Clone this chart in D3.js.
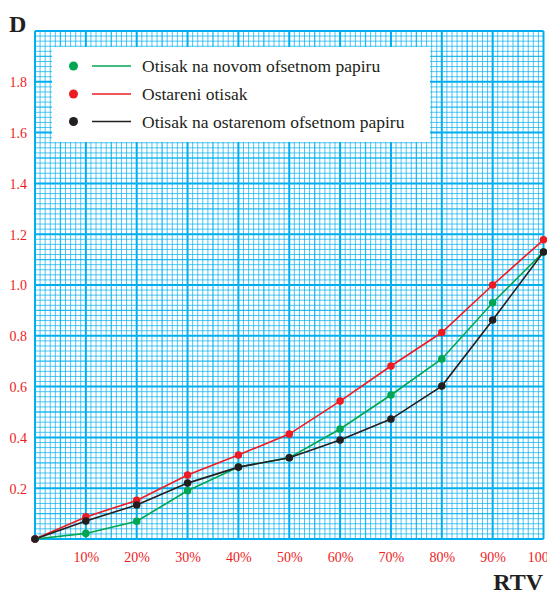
<!DOCTYPE html>
<html>
<head>
<meta charset="utf-8">
<script src="https://cdn.jsdelivr.net/npm/d3@7"></script>
<style>
  body { margin: 0; background: #fff; }
  svg { display: block; }
  svg text { font-family: "Liberation Serif", "Times New Roman", Times, "DejaVu Serif", "Noto Serif", serif; }
</style>
</head>
<body>
<script>
const width = 547;
const height = 592;
const serif = '"Liberation Serif", "Times New Roman", Times, "DejaVu Serif", "Noto Serif", serif';

// RTV (%) on x, optical density D on y
const rtv = [0, 10, 20, 30, 40, 50, 60, 70, 80, 90, 100];
const novi = [0, 0.022, 0.07, 0.19, 0.283, 0.32, 0.433, 0.567, 0.709, 0.93, 1.13];
const ostareni = [0, 0.087, 0.152, 0.252, 0.331, 0.413, 0.543, 0.681, 0.813, 1.0, 1.178];
const ostareniPapir = [0, 0.071, 0.134, 0.22, 0.283, 0.32, 0.39, 0.472, 0.602, 0.862, 1.13];

const seriesNames = ['Otisak na novom ofsetnom papiru', 'Ostareni otisak', 'Otisak na ostarenom ofsetnom papiru'];
const seriesColors = ['#00a651', '#ed1c24', '#231f20'];
const seriesValues = [novi, ostareni, ostareniPapir];

const xTicks = [10, 20, 30, 40, 50, 60, 70, 80, 90, 100];
const yTicks = [0.2, 0.4, 0.6, 0.8, 1.0, 1.2, 1.4, 1.6, 1.8];

const x = d3.scaleLinear().domain([0, 100]).range([35, 543.5]);
const y = d3.scaleLinear().domain([0, 2]).range([539, 31]);

const svg = d3.select('body').append('svg')
    .attr('width', width)
    .attr('height', height);

// graph paper
const grid = svg.append('g');
const gridBlue = '#00aeef';

d3.range(0, 101).forEach((i) => {
  let major = i % 10 === 0, mid = i % 5 === 0;
  grid.append('line')
    .attr('x1', x(i)).attr('x2', x(i))
    .attr('y1', y(2)).attr('y2', y(0))
    .attr('stroke', gridBlue)
    .attr('stroke-opacity', major ? 1 : (mid ? 0.85 : 0.7))
    .attr('stroke-width', major ? 2 : (mid ? 1.3 : 1));
});
d3.range(0, 101).forEach((i) => {
  let v = i * 0.02;
  let major = i % 10 === 0, mid = i % 5 === 0;
  grid.append('line')
    .attr('x1', x(0)).attr('x2', x(100))
    .attr('y1', y(v)).attr('y2', y(v))
    .attr('stroke', gridBlue)
    .attr('stroke-opacity', major ? 1 : (mid ? 0.85 : 0.7))
    .attr('stroke-width', major ? 2 : (mid ? 1.3 : 1));
});

// axes labels (red numbers)
const xAxis = svg.append('g')
    .attr('transform', `translate(0,${y(0) + 10})`)
    .call(d3.axisBottom(x).tickValues(xTicks).tickSize(0).tickFormat((d) => d + '%'));
const yAxis = svg.append('g')
    .attr('transform', `translate(${x(0) - 8},0)`)
    .call(d3.axisLeft(y).tickValues(yTicks).tickSize(0).tickFormat(d3.format('.1f')));

[xAxis, yAxis].forEach((ax) => {
  ax.attr('font-family', null);
  ax.select('.domain').remove();
  ax.selectAll('text')
    .attr('fill', '#ed1c24')
    .style('font-family', serif)
    .style('font-size', '14px');
});
yAxis.selectAll('text').attr('x', 0).attr('dy', '0.35em');

svg.append('text')
    .attr('x', 9).attr('y', 32)
    .style('font-family', serif)
    .style('font-weight', 'bold')
    .style('font-size', '24px')
    .attr('fill', '#231f20')
    .text('D');

svg.append('text')
    .attr('x', 543).attr('y', 590)
    .attr('text-anchor', 'end')
    .style('font-family', serif)
    .style('font-weight', 'bold')
    .style('font-size', '24px')
    .attr('fill', '#231f20')
    .text('RTV');

// series
const line = d3.line()
    .x((d, i) => x(rtv[i]))
    .y((d) => y(d));

seriesValues.forEach((vals, k) => {
  svg.append('path')
    .datum(vals)
    .attr('d', line)
    .attr('fill', 'none')
    .attr('stroke', seriesColors[k])
    .attr('stroke-width', 1.6);
});
seriesValues.forEach((vals, k) => {
  svg.append('g').selectAll('circle')
    .data(vals)
    .join('circle')
    .attr('cx', (d, i) => x(rtv[i]))
    .attr('cy', (d) => y(d))
    .attr('r', 3.8)
    .attr('fill', seriesColors[k]);
});

// legend
const legend = svg.append('g');
legend.append('rect')
    .attr('x', 52).attr('y', 47)
    .attr('width', 378).attr('height', 95)
    .attr('fill', '#fff');

seriesNames.forEach((name, k) => {
  let ly = [66, 94, 121.5][k];
  legend.append('circle')
    .attr('cx', 73.5).attr('cy', ly).attr('r', 4.5)
    .attr('fill', seriesColors[k]);
  legend.append('line')
    .attr('x1', 92).attr('x2', 131)
    .attr('y1', ly).attr('y2', ly)
    .attr('stroke', seriesColors[k])
    .attr('stroke-width', 1.6);
  legend.append('text')
    .attr('x', 142).attr('y', ly)
    .attr('dy', '0.35em')
    .style('font-family', serif)
    .style('font-size', '17.5px')
    .attr('fill', '#231f20')
    .text(name);
});
</script>
</body>
</html>
